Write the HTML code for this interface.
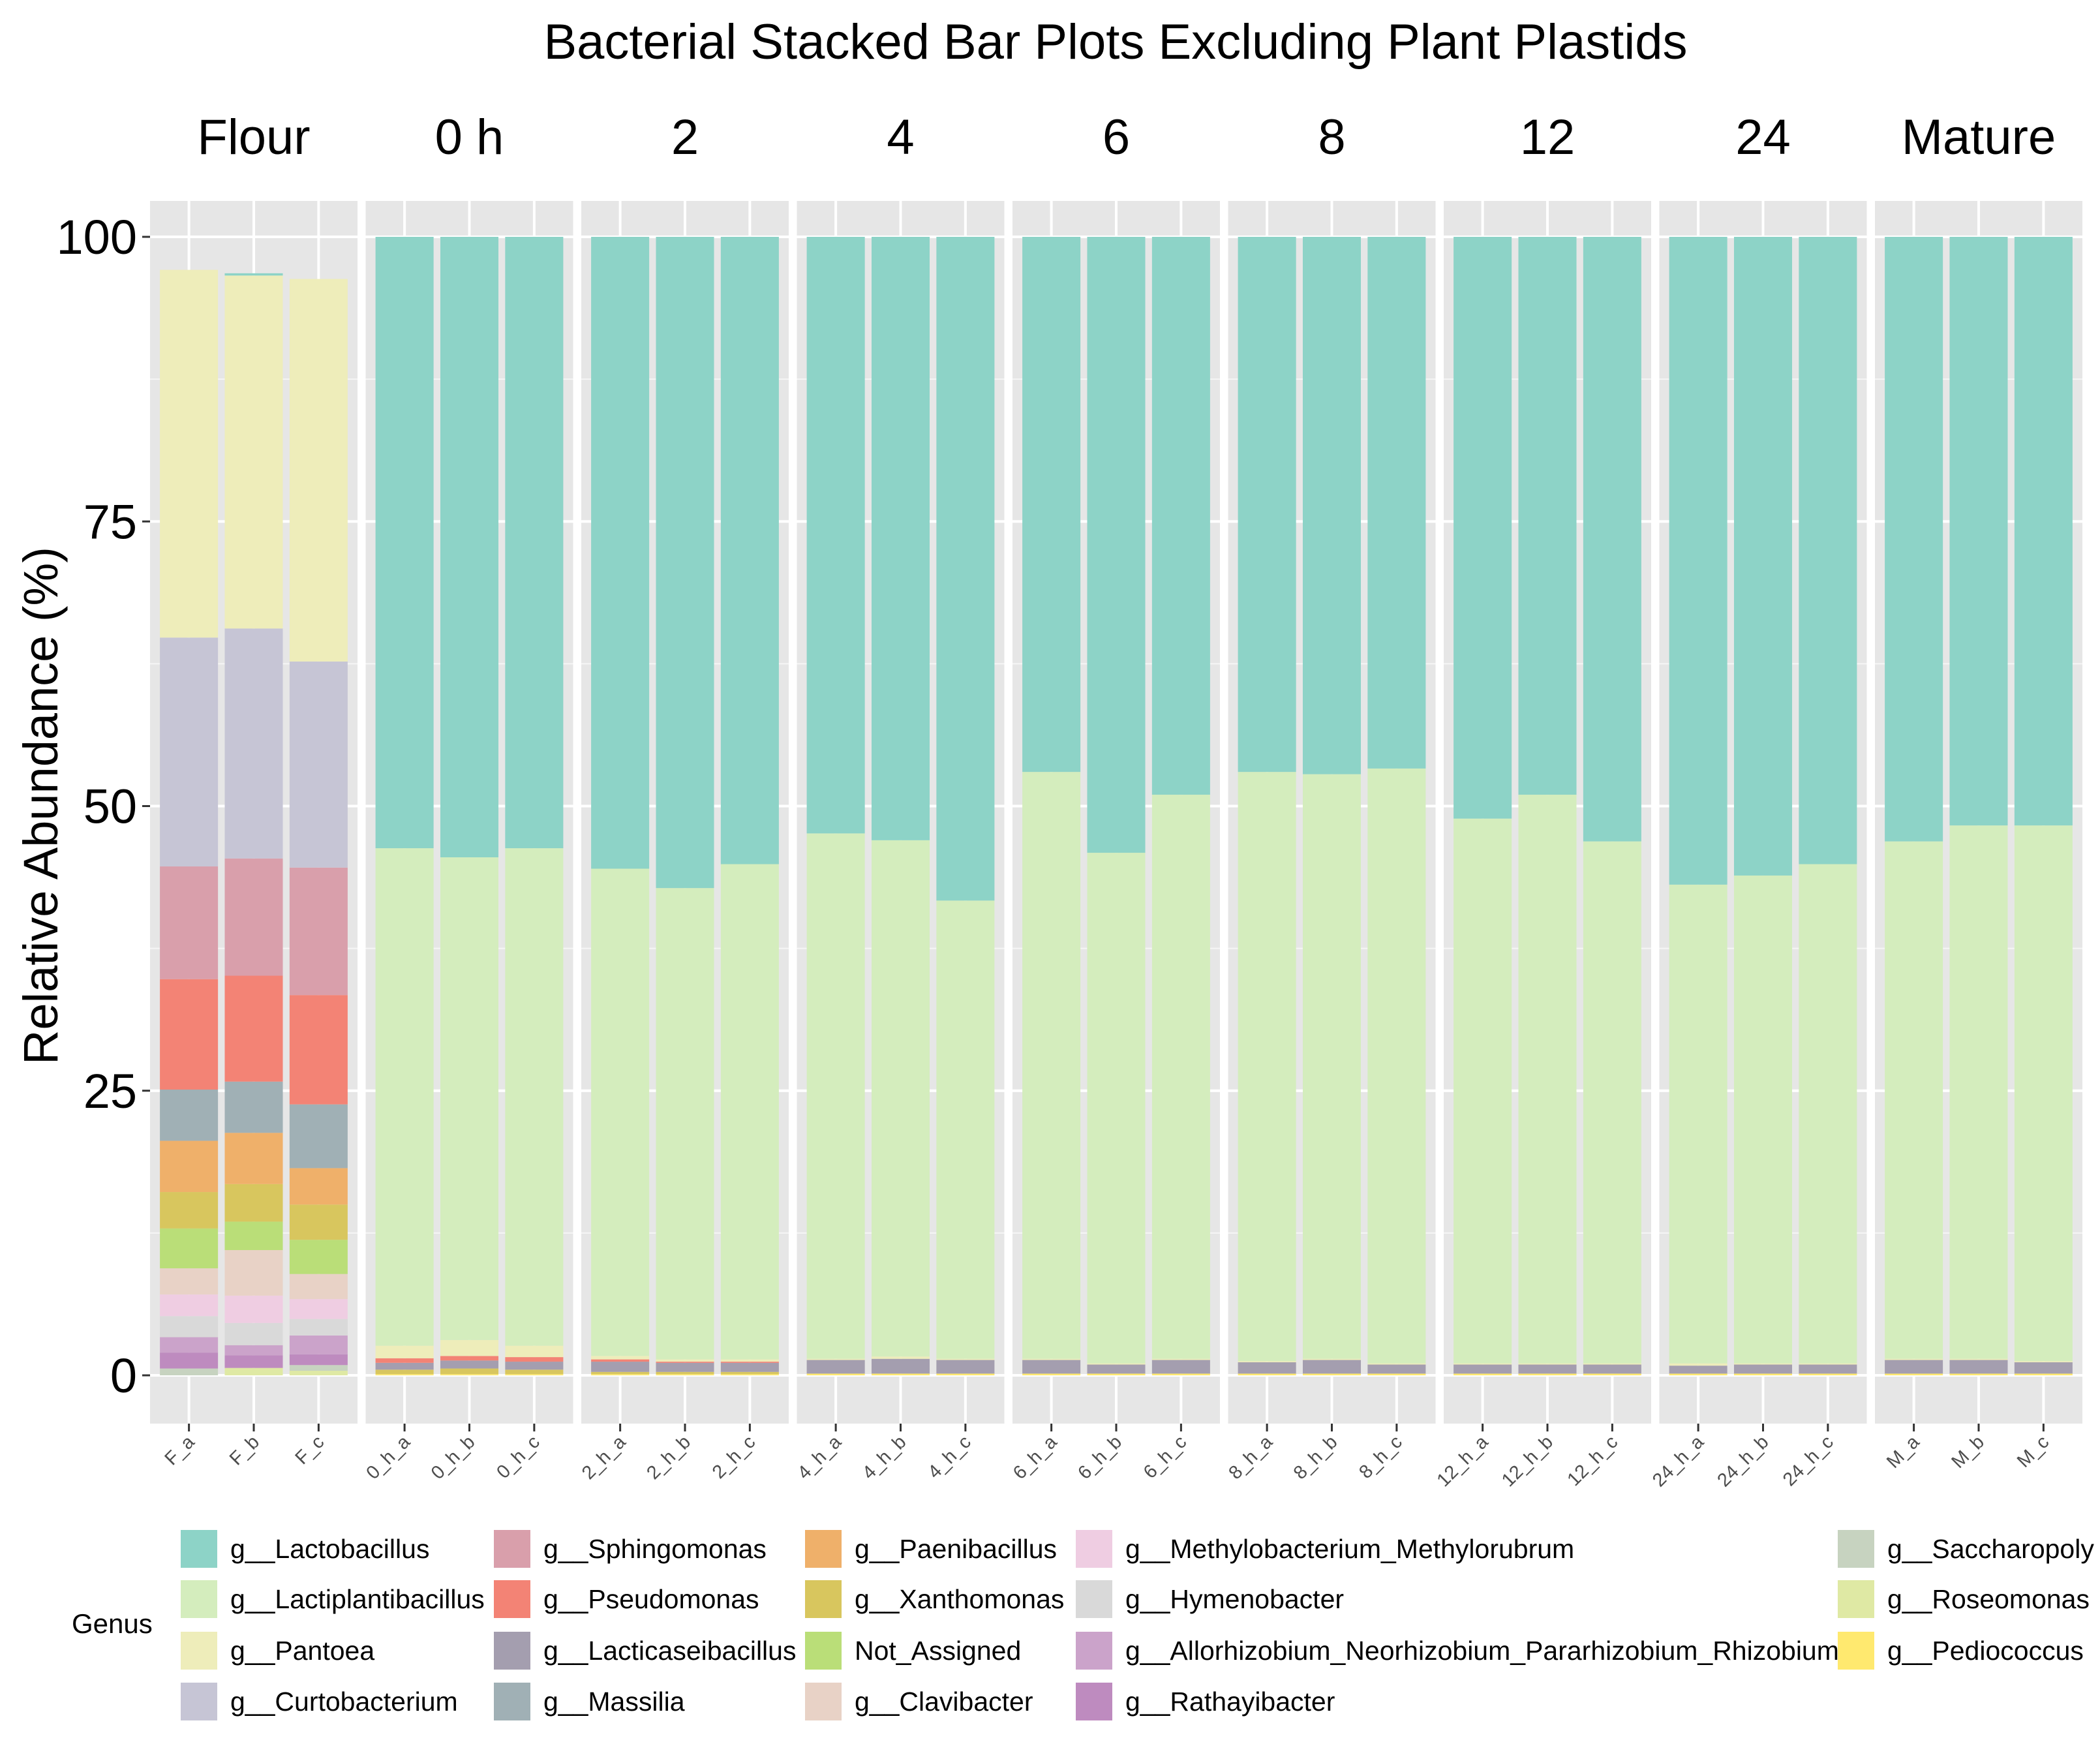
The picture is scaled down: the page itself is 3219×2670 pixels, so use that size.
<!DOCTYPE html>
<html><head><meta charset="utf-8"><style>
body{margin:0;background:#fff}
svg{display:block}
text{font-family:"Liberation Sans",sans-serif}
</style></head><body>
<svg id="chart" xmlns="http://www.w3.org/2000/svg" width="3219" height="2670" viewBox="0 0 3219 2670"></svg>
<script>
const genera = ["g__Lactobacillus","g__Lactiplantibacillus","g__Pantoea","g__Curtobacterium","g__Sphingomonas","g__Pseudomonas","g__Lacticaseibacillus","g__Massilia","g__Paenibacillus","g__Xanthomonas","Not_Assigned","g__Clavibacter","g__Methylobacterium_Methylorubrum","g__Hymenobacter","g__Allorhizobium_Neorhizobium_Pararhizobium_Rhizobium","g__Rathayibacter","g__Saccharopoly","g__Roseomonas","g__Pediococcus"];
const colors = ["#8DD3C7","#D4EDBD","#EEEDBA","#C6C5D5","#D99FAB","#F38375","#A49EAF","#A0B0B5","#EFB06A","#D8C65E","#BADE78","#E8D2C6","#EFCDE2","#D9D9D9","#CBA3CA","#BE8BBF","#C7D3C0","#DFE9A4","#FFE96F"];
const panels = ["Flour","0 h","2","4","6","8","12","24","Mature"];
const samples = [["F_a","F_b","F_c"],["0_h_a","0_h_b","0_h_c"],["2_h_a","2_h_b","2_h_c"],["4_h_a","4_h_b","4_h_c"],["6_h_a","6_h_b","6_h_c"],["8_h_a","8_h_b","8_h_c"],["12_h_a","12_h_b","12_h_c"],["24_h_a","24_h_b","24_h_c"],["M_a","M_b","M_c"]];
const flourA = [0,0,32.3,20.1,9.9,9.7,0,4.5,4.5,3.2,3.5,2.3,1.9,1.85,1.35,1.4,0.6,0,0];
const flourB = [0.2,0,31.0,20.2,10.3,9.3,0,4.5,4.5,3.3,2.5,4.0,2.4,1.95,0.9,1.1,0,0.65,0];
const flourC = [0,0,33.6,18.1,11.2,9.6,0,5.6,3.2,3.1,3.0,2.2,1.75,1.45,1.65,0.95,0.5,0.4,0];
const boundary = [[46.3,45.5,46.3],[44.5,42.8,44.9],[47.6,47.0,41.7],[53.0,45.9,51.0],[53.0,52.8,53.3],[48.9,51.0,46.9],[43.1,43.9,44.9],[46.9,48.3,48.3]];
const pantoeaSmall = [[1.1,1.4,1.0],[0.3,0.2,0.2],[0.1,0.2,0.1],[0.1,0.1,0.1],[0.1,0.1,0.1],[0.1,0.1,0.1],[0.2,0.1,0.1],[0.1,0.1,0.1]];
const lacticaseiSmall = [[0.6,0.7,0.7],[0.9,0.8,0.8],[1.2,1.3,1.2],[1.2,0.8,1.2],[1.0,1.2,0.8],[0.8,0.8,0.8],[0.7,0.8,0.8],[1.2,1.2,1.0]];
const pseudoSmall = [[0.4,0.4,0.4],[0.2,0.1,0.1],[0,0,0],[0,0,0],[0,0,0],[0,0,0],[0,0,0],[0,0,0]];
const xanthoSmall = [[0.4,0.5,0.4],[0.2,0.2,0.2],[0,0,0],[0,0,0],[0,0,0],[0,0,0],[0,0,0],[0,0,0]];
const pedioSmall = [[0.1,0.1,0.1],[0.1,0.1,0.1],[0.15,0.15,0.15],[0.15,0.15,0.15],[0.15,0.15,0.15],[0.15,0.15,0.15],[0.15,0.15,0.15],[0.15,0.15,0.15]];
const yTicks = [0,25,50,75,100];

const NS="http://www.w3.org/2000/svg";
const svg=document.getElementById('chart');
function mk(tag,attrs,parent){const e=document.createElementNS(NS,tag);for(const k in attrs)e.setAttribute(k,attrs[k]);(parent||svg).appendChild(e);return e;}
const Y0=2108,Y100=363,pTop=308,pBot=2182,pX0=230,pW=318,pPitch=330.5;
const yS=v=>Y0-(v/100)*(Y0-Y100);
const xS=(p,i)=>pX0+p*pPitch+pW*(0.1875+i*0.3125);
const bw=pW*0.28;

function sampleValues(p,i){
  if(p===0) return [flourA,flourB,flourC][i];
  const q=p-1, v=new Array(genera.length).fill(0);
  v[2]=pantoeaSmall[q][i]; v[5]=pseudoSmall[q][i]; v[6]=lacticaseiSmall[q][i];
  v[9]=xanthoSmall[q][i]; v[18]=pedioSmall[q][i];
  const small=v.reduce((a,b)=>a+b,0);
  v[1]=boundary[q][i]-small; v[0]=100-boundary[q][i];
  return v;
}

let t=mk('text',{x:1710,y:90,'font-size':76,'text-anchor':'middle',fill:'#000'});t.textContent="Bacterial Stacked Bar Plots Excluding Plant Plastids";


t=mk('text',{x:0,y:0,'font-size':74,'text-anchor':'middle',fill:'#000',transform:'translate(88,1235) rotate(-90)'});t.textContent="Relative Abundance (%)";


yTicks.forEach(v=>{
  const l=mk('text',{x:210,y:yS(v)+26,'font-size':74,'text-anchor':'end',fill:'#000'});l.textContent=v;
  
  
  mk('line',{x1:218,x2:230,y1:yS(v),y2:yS(v),stroke:'#333','stroke-width':3});
});

panels.forEach((name,p)=>{
  const g=mk('g',{});
  
  
  const px=pX0+p*pPitch;
  mk('rect',{x:px,y:pTop,width:pW,height:pBot-pTop,fill:'#E6E6E6'},g);
  for(let m=0;m<4;m++){const v=12.5+25*m;mk('line',{x1:px,x2:px+pW,y1:yS(v),y2:yS(v),stroke:'#F5F5F5','stroke-width':2},g);}
  yTicks.forEach(v=>mk('line',{x1:px,x2:px+pW,y1:yS(v),y2:yS(v),stroke:'#fff','stroke-width':4},g));
  for(let i=0;i<3;i++) mk('line',{x1:xS(p,i),x2:xS(p,i),y1:pTop,y2:pBot,stroke:'#fff','stroke-width':4},g);
  const st=mk('text',{x:px+pW/2,y:236,'font-size':76,'text-anchor':'middle',fill:'#000'},g);st.textContent=name;
  
  
  for(let i=0;i<3;i++){
    const vals=sampleValues(p,i);let cum=0;
    for(let k=genera.length-1;k>=0;k--){
      if(vals[k]<=0)continue;
      const r=mk('rect',{x:xS(p,i)-bw/2,y:yS(cum+vals[k]),width:bw,height:yS(cum)-yS(cum+vals[k]),fill:colors[k]},g);
      
      
      cum+=vals[k];
    }
    mk('line',{x1:xS(p,i),x2:xS(p,i),y1:pBot,y2:pBot+12,stroke:'#333','stroke-width':3},g);
    const xl=mk('text',{x:0,y:0,'font-size':29,'text-anchor':'end',fill:'#4D4D4D',transform:`translate(${xS(p,i)+10},${pBot+30}) rotate(-45)`},g);
    xl.textContent=samples[p][i];
    
    
  }
});

const lg=mk('g',{});


t=mk('text',{x:110,y:2503,'font-size':42,fill:'#000'},lg);t.textContent="Genus";
const colX=[277,757,1234,1649,2817];
const rowY=[2345,2422,2501,2579];
genera.forEach((gname,k)=>{
  let c,r;
  if(k<16){c=Math.floor(k/4);r=k%4;}else{c=4;r=k-16;}
  const e=mk('g',{},lg);
  
  
  mk('rect',{x:colX[c],y:rowY[r],width:56,height:58,fill:colors[k]},e);
  const tx=mk('text',{x:colX[c]+76,y:rowY[r]+43,'font-size':41,fill:'#000'},e);
  tx.textContent=gname;
});
</script>
</body></html>
